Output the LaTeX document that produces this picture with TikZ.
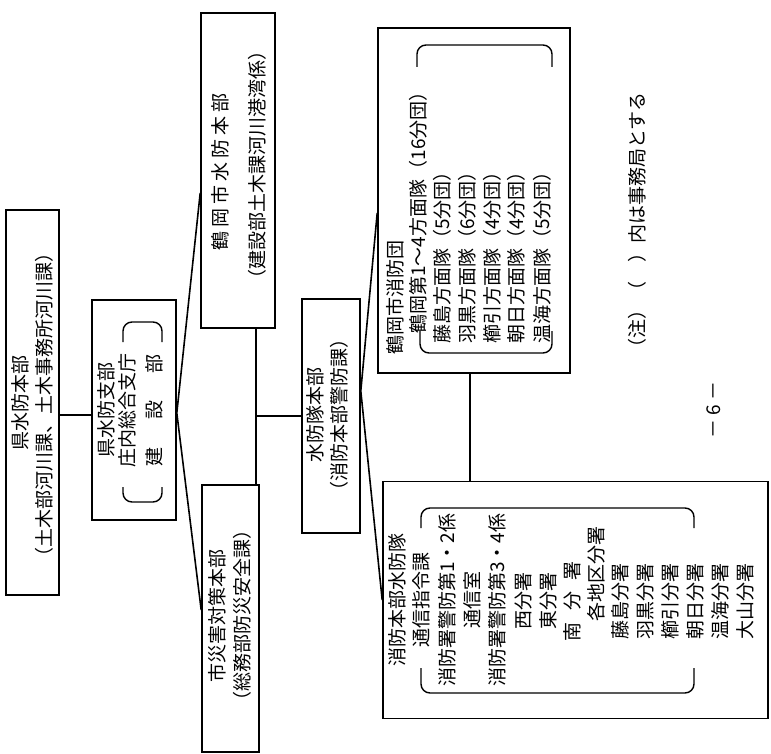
\documentclass[tikz,border=0pt]{standalone}
\usepackage{fontspec}
\newfontfamily\jp{Noto Sans CJK JP}
\begin{document}
\begin{tikzpicture}[x=1pt,y=-1pt,
  box/.style={draw, line width=1.6pt, rectangle, inner sep=0},
  vt/.style={rotate=90, inner sep=0, font=\jp\fontsize{19}{19}\selectfont, anchor=center},
  conn/.style={line width=1.6pt},
  paren/.style={line width=1.4pt, rounded corners=9pt}]
\useasboundingbox (0,0) rectangle (771,754);
\fill[white] (0,0) rectangle (771,754);
% boxes
\node[box, minimum width=53pt, minimum height=385pt] (A) at (32.5,402.5) {};
\node[box, minimum width=84pt, minimum height=220pt] (B) at (134,410) {};
\node[box, minimum width=74pt, minimum height=315pt] (C) at (238,170.5) {};
\node[box, minimum width=57pt, minimum height=267pt] (D) at (230.5,618.5) {};
\node[box, minimum width=58pt, minimum height=234pt] (E) at (331,416) {};
\node[box, minimum width=192pt, minimum height=345pt] (F) at (474,200.5) {};
\node[box, minimum width=385pt, minimum height=237pt] (G) at (575.5,600) {};
% connectors
\draw[conn] ([yshift=-5pt]B.west) -- ([yshift=-5pt]B.west -| A.east);
\draw[conn] ([yshift=-3pt]B.east) -- ([yshift=-22.5pt]C.west);
\draw[conn] ([yshift=-3pt]B.east) -- ([yshift=8.5pt]D.west);
\coordinate (cd) at ([xshift=18pt]C.south);
\draw[conn] (cd) -- (cd |- D.north);
\draw[conn] (cd |- E.west) -- (E.west);
\draw[conn] ([yshift=25pt]E.east) -- ([yshift=-12.5pt]F.west);
\draw[conn] ([yshift=25pt]E.east) -- (G.west);
\coordinate (fg) at ([xshift=-4pt]F.south);
\draw[conn] (fg) -- (fg |- G.north);
% parens
\draw[paren] (417,67) -- (417,45) -- (552,45) -- (552,67);
\draw[paren] (420,331) -- (420,353) -- (552,353) -- (552,331);
\draw[paren] (123,342) -- (123,322) -- (162,322) -- (162,342);
\draw[paren] (123,487) -- (123,502) -- (162,502) -- (162,487);
\draw[paren] (421,528) -- (421,508) -- (694,508) -- (694,528);
\draw[paren] (421,668) -- (421,693) -- (694,693) -- (694,668);
% texts A
\node[vt] (a1) at (20,403) {県水防本部};
\node[vt] (a2) at (44,405) {（土木部河川課、土木事務所河川課）};
% B
\node[vt] (b1) at (106,410) {県水防支部};
\node[vt] (b2) at (127,410) {庄内総合支庁};
\node[vt] (b3) at (154,410) {\makebox[112pt][s]{建\hfill 設\hfill 部}};
% C
\node[vt] (c1) at (220,172) {\makebox[158pt][s]{鶴\hfill 岡\hfill 市\hfill 水\hfill 防\hfill 本\hfill 部}};
\node[vt] (c2) at (257,165) {（建設部土木課河川港湾係）};
% D
\node[vt] (d1) at (217,616) {市災害対策本部};
\node[vt] (d2) at (242,615) {（総務部防災安全課）};
% E
\node[vt] (e1) at (315,415) {水防隊本部};
\node[vt] (e2) at (339,415) {（消防本部警防課）};
% F
\node[vt] (f1) at (395,297) {鶴岡市消防団};
\node[vt] (f2) at (418,208) {鶴岡第1～4方面隊（16分団）};
\node[vt] (f3) at (442,253) {藤島方面隊（5分団）};
\node[vt] (f4) at (467,253) {羽黒方面隊（6分団）};
\node[vt] (f5) at (492,253) {櫛引方面隊（4分団）};
\node[vt] (f6) at (516,253) {朝日方面隊（4分団）};
\node[vt] (f7) at (542,253) {温海方面隊（5分団）};
% G
\node[vt] (g1) at (397,600) {消防本部水防隊};
\node[vt] (g2) at (421,600) {通信指令課};
\node[vt] (g3) at (447,600) {消防署警防第1・2係};
\node[vt] (g4) at (472,600) {通信室};
\node[vt] (g5) at (497,600) {消防署警防第3・4係};
\node[vt] (g6) at (523,601) {西分署};
\node[vt] (g7) at (548,601) {東分署};
\node[vt] (g8) at (572,601) {\makebox[80pt][s]{南\hfill 分\hfill 署}};
\node[vt] (g9) at (596,574) {各地区分署};
\node[vt] (g10) at (620,601) {藤島分署};
\node[vt] (g11) at (645,601) {羽黒分署};
\node[vt] (g12) at (670,601) {櫛引分署};
\node[vt] (g13) at (695,601) {朝日分署};
\node[vt] (g14) at (720,601) {温海分署};
\node[vt] (g15) at (745,601) {大山分署};
% note and page
\node[vt] (note) at (637,225) {（注）（　）内は事務局とする};
\node[vt] (page) at (714,410) {－ 6 －};
\end{tikzpicture}
\end{document}
